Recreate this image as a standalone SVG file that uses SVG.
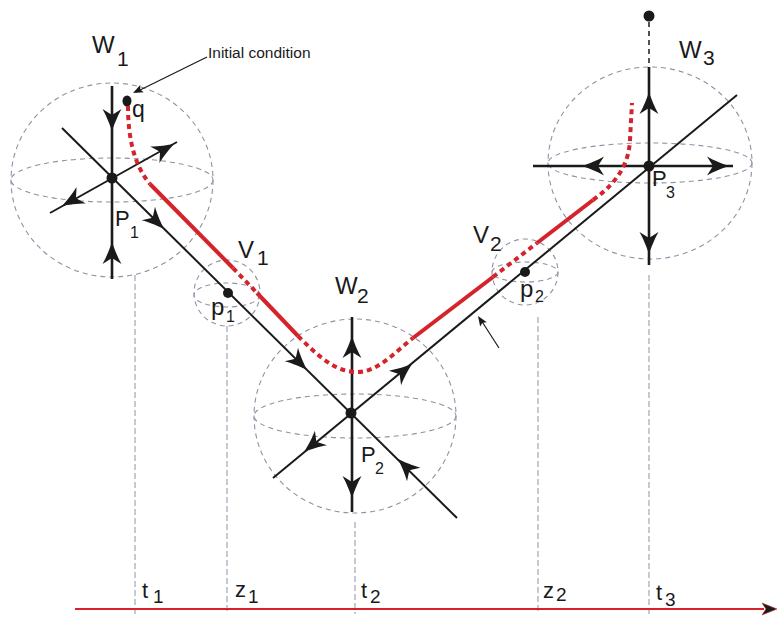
<svg xmlns="http://www.w3.org/2000/svg" xmlns:xlink="http://www.w3.org/1999/xlink" width="780" height="618" viewBox="0 0 780 618">
<style>
.sph{fill:none;stroke:#8d93a5;stroke-width:1.1;stroke-dasharray:5 4}
.grid{fill:none;stroke:#8d93a5;stroke-width:1;stroke-dasharray:6 3}
.ax{fill:none;stroke:#1a1a1a;stroke-width:2.6}
.dg{fill:none;stroke:#1a1a1a;stroke-width:2}
.thin{fill:none;stroke:#1a1a1a;stroke-width:1.2}
.rs{fill:none;stroke:#d5232c;stroke-width:4}
.rd{fill:none;stroke:#d5232c;stroke-width:4;stroke-dasharray:5 4}
.dot{fill:#1a1a1a}
.lb{font-family:"Liberation Sans",Arial,sans-serif;fill:#1a1a1a}
.big{font-size:24px}
.sub{font-size:21px}
.pp{font-size:22px}
.ps{font-size:16px}
.tl{font-size:22px}
.ts{font-size:19px}
</style>
<defs>
<path id="ah" d="M0,0 C-6,-2 -15,-5.5 -22,-9.5 L-16,0 L-22,9.5 C-15,5.5 -6,2 0,0 Z" fill="#1a1a1a"/>
<path id="sh" d="M0,0 L-10,-4 L-8,0 L-10,4 Z" fill="#1a1a1a"/>
</defs>

<g id="timeaxis">
<line x1="135" y1="275" x2="135" y2="614" class="grid"/>
<line x1="227" y1="326" x2="227" y2="614" class="grid"/>
<line x1="355" y1="522" x2="355" y2="614" class="grid"/>
<line x1="538" y1="317" x2="538" y2="614" class="grid"/>
<line x1="649" y1="275" x2="649" y2="614" class="grid"/>
<line x1="75" y1="609" x2="764" y2="609" stroke="#d5232c" stroke-width="1.8"/>
<path d="M777,609 L762,603 L766,609 L762,615 Z" fill="#1a1a1a" stroke="#d5232c" stroke-width="0.6"/>
<text class="lb tl" x="142" y="598">t</text><text class="lb ts" x="153" y="603">1</text>
<text class="lb tl" x="235" y="597">z</text><text class="lb ts" x="248" y="603">1</text>
<text class="lb tl" x="361" y="598">t</text><text class="lb ts" x="370" y="603">2</text>
<text class="lb tl" x="543" y="598">z</text><text class="lb ts" x="556" y="601">2</text>
<text class="lb tl" x="656" y="600">t</text><text class="lb ts" x="665" y="606">3</text>
</g>

<g id="W1">
<ellipse cx="112" cy="180" rx="101" ry="97" class="sph"/>
<ellipse cx="112" cy="180" rx="101" ry="22" class="sph"/>
<line x1="112" y1="86" x2="112" y2="279" class="ax"/>
<line x1="50" y1="213" x2="177" y2="142" class="dg"/>
<use xlink:href="#ah" transform="translate(112,131) rotate(90)"/>
<use xlink:href="#ah" transform="translate(112,242) rotate(-90)"/>
<use xlink:href="#ah" transform="translate(174,144) rotate(-29.2)"/>
<use xlink:href="#ah" transform="translate(62,206) rotate(150.8)"/>
<circle cx="112" cy="178" r="5.5" class="dot"/>
<text class="lb big" x="92" y="53">W</text><text class="lb sub" x="117" y="66">1</text>
<text class="lb pp" x="115" y="226">P</text><text class="lb ps" x="130" y="238">1</text>
</g>

<g id="V1">
<circle cx="227" cy="293" r="33" class="sph"/>
<ellipse cx="227" cy="295" rx="33" ry="12" class="sph"/>
<circle cx="228" cy="293" r="5" class="dot"/>
<text class="lb big" x="238" y="258">V</text><text class="lb sub" x="257" y="265">1</text>
<text class="lb big" x="211" y="315">p</text><text class="lb ps" x="226" y="322">1</text>
</g>

<g id="W2">
<ellipse cx="355" cy="416" rx="101" ry="97" class="sph"/>
<ellipse cx="355" cy="416" rx="101" ry="22" class="sph"/>
<line x1="352" y1="317" x2="352" y2="512" class="ax"/>
<use xlink:href="#ah" transform="translate(352,336) rotate(-90)"/>
<use xlink:href="#ah" transform="translate(352,498) rotate(90)"/>
<circle cx="351" cy="413" r="5.5" class="dot"/>
<text class="lb big" x="335" y="294">W</text><text class="lb sub" x="357" y="303">2</text>
<text class="lb pp" x="361" y="462">P</text><text class="lb ps" x="375" y="474">2</text>
</g>

<g id="V2">
<circle cx="525" cy="272" r="33" class="sph"/>
<ellipse cx="525" cy="272" rx="33" ry="10" class="sph"/>
<circle cx="525" cy="272" r="5" class="dot"/>
<text class="lb big" x="473" y="243">V</text><text class="lb sub" x="490" y="251">2</text>
<text class="lb big" x="520" y="297">p</text><text class="lb ps" x="535" y="302">2</text>
</g>

<g id="W3">
<ellipse cx="650" cy="163" rx="102" ry="96" class="sph"/>
<ellipse cx="650" cy="163" rx="102" ry="20" class="sph"/>
<line x1="649" y1="67" x2="649" y2="265" class="ax"/>
<line x1="533" y1="166" x2="733" y2="166" class="ax"/>
<use xlink:href="#ah" transform="translate(649,92) rotate(-90)"/>
<use xlink:href="#ah" transform="translate(649,254) rotate(90)"/>
<use xlink:href="#ah" transform="translate(582,166) rotate(180)"/>
<use xlink:href="#ah" transform="translate(729,166)"/>
<line x1="649" y1="22" x2="649" y2="66" stroke="#1a1a1a" stroke-width="1.5" stroke-dasharray="5 4"/>
<circle cx="649" cy="16" r="5.5" class="dot"/>
<circle cx="649" cy="166" r="5.5" class="dot"/>
<text class="lb big" x="679" y="58">W</text><text class="lb sub" x="703" y="65">3</text>
<text class="lb pp" x="652" y="186">P</text><text class="lb ps" x="666" y="198">3</text>
</g>

<g id="initial">
<ellipse cx="127" cy="101" rx="4.5" ry="5.5" class="dot"/>
<text class="lb" style="font-size:23px" x="132" y="117">q</text>
<text class="lb" style="font-size:15.5px" x="208" y="58">Initial condition</text>
</g>

<g id="connectors">
<line x1="62" y1="128" x2="457" y2="518" class="dg"/>
<line x1="273" y1="478" x2="737" y2="95" class="dg"/>
<use xlink:href="#ah" transform="translate(164,229) rotate(44.6)"/>
<use xlink:href="#ah" transform="translate(307,370) rotate(44.6)"/>
<use xlink:href="#ah" transform="translate(398,459) rotate(-135.4)"/>
<use xlink:href="#ah" transform="translate(412,364) rotate(-39.5)"/>
<use xlink:href="#ah" transform="translate(304,452) rotate(140.5)"/>
<path d="M128,106 C128,135 133,164 150,184" class="rd"/>
<line x1="150" y1="184" x2="233" y2="268" class="rs"/>
<line x1="233" y1="268" x2="257" y2="293" class="rd"/>
<line x1="257" y1="293" x2="298" y2="336" class="rs"/>
<path d="M298,336 C320,358 336,372 357,372 C378,372 395,352 413,338" class="rd"/>
<line x1="413" y1="338" x2="493" y2="277" class="rs"/>
<line x1="493" y1="277" x2="537" y2="243" class="rd"/>
<line x1="537" y1="243" x2="593" y2="200" class="rs"/>
<path d="M593,200 C621,180 629,160 630,140 L632,103" class="rd"/>
<line x1="207" y1="57" x2="136" y2="92" class="thin"/>
<use xlink:href="#sh" transform="translate(133,93) rotate(154)"/>
<line x1="499" y1="348" x2="481" y2="320" class="thin"/>
<use xlink:href="#sh" transform="translate(478,316) rotate(-123.3)"/>
</g>
</svg>
